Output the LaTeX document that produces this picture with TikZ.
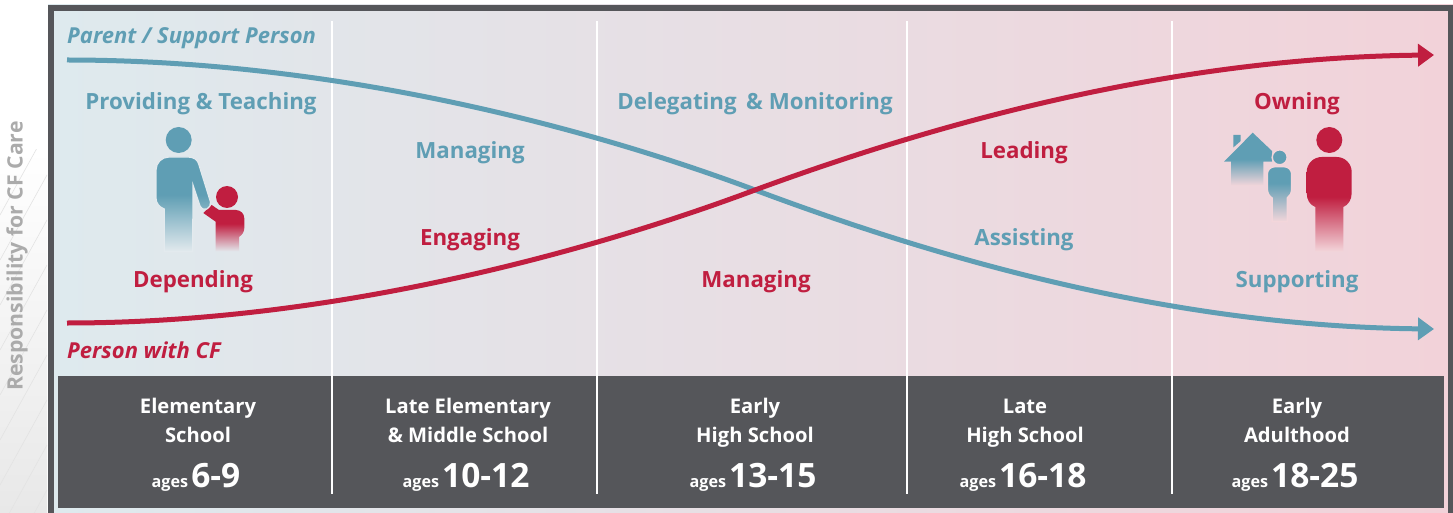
\documentclass[tikz,border=0pt]{standalone}
\usepackage{fontspec}
\setmainfont{Open Sans}
\usetikzlibrary{arrows.meta}
\definecolor{cfteal}{HTML}{5F9EB4}
\definecolor{cfred}{HTML}{C01E40}
\definecolor{cfdark}{HTML}{55565A}
\definecolor{bgleft}{HTML}{E3EAEE}
\definecolor{bgright}{HTML}{F3D6DB}
\definecolor{panelleft}{HTML}{DEEAEE}
\definecolor{panelmid}{HTML}{E9E3E5}
\definecolor{panelright}{HTML}{F2D2D9}
% figures run solid, then fade into the panel colour
\pgfdeclareverticalshading{parentfade}{100bp}{color(0bp)=(bgleft); color(25bp)=(bgleft); color(55bp)=(cfteal); color(100bp)=(cfteal)}
\pgfdeclareverticalshading{childfade}{100bp}{color(0bp)=(bgleft); color(25bp)=(bgleft); color(55bp)=(cfred); color(100bp)=(cfred)}
\pgfdeclareverticalshading{adultfade}{100bp}{color(0bp)=(bgright); color(25bp)=(bgright); color(54bp)=(cfred); color(100bp)=(cfred)}
\pgfdeclareverticalshading{smallfade}{100bp}{color(0bp)=(bgright); color(25bp)=(bgright); color(60bp)=(cfteal); color(100bp)=(cfteal)}
\pgfdeclareverticalshading{housefade}{100bp}{color(0bp)=(bgright); color(25bp)=(bgright); color(50bp)=(cfteal); color(100bp)=(cfteal)}
\begin{document}
\begin{tikzpicture}[x=1pt,y=-1pt,
  role/.style = {font=\fontsize{22.3}{24}\selectfont\bfseries, anchor=base, inner sep=0pt},
  who/.style = {font=\fontsize{22}{24}\selectfont\bfseries\itshape, anchor=base west, inner sep=0pt},
  stagetxt/.style = {font=\fontsize{20.2}{22}\selectfont\bfseries, text=white, anchor=base, inner sep=0pt},
  curve/.style = {line width=5pt, -{Triangle[length=16pt,width=22pt]}}
]
    \useasboundingbox (0,0) rectangle (1453,513);
    % left margin with axis label
    \shade[top color=white, bottom color=black!9] (0,150) rectangle (47,513);
    \begin{scope}
        \clip (0,150) rectangle (47,513);
        \foreach \hy in {215,260,...,620}
        \draw[black!11, line width=0.6pt] (0,\hy) -- ++(47,-85);
    \end{scope}
    \node[rotate=90, text=black!33, inner sep=0pt, font=\fontsize{21.2}{24}\selectfont\bfseries] (axislabel) at (17,256) {Responsibility for CF Care};
    % panel
    \shade[left color=panelleft, middle color=panelmid, right color=panelright] (48,5) rectangle (1453,513);
    \draw[cfdark, line width=5.5pt] (50.75,513) -- (50.75,8) -- (1450.5,8) -- (1450.5,513);
    \fill[cfdark] (58,376) rectangle (1444,508);
    \foreach \sx in {332,597,907,1172}
    \draw[white, line width=2pt] (\sx,21) -- (\sx,494);
    % curves
    \coordinate (parentstart) at (67,60);
    \coordinate (childstart) at (67,323);
    \coordinate (swap) at (755,190);
    \coordinate (parentend) at (1434,329);
    \coordinate (childend) at (1434,55);
    \draw[curve, cfteal] (parentstart) .. controls (340,60) and (595,130) .. (swap) .. controls (905,246) and (1150,326) .. (parentend);
    \draw[curve, cfred] (childstart) .. controls (340,323) and (600,248) .. (swap) .. controls (905,135) and (1150,58) .. (childend);
    \node[who, text=cfteal] (parentlabel) at (67,44) {Parent / Support Person};
    \node[who, text=cfred] (childlabel) at (67,358) {Person with CF};
    % upper and lower roles
    \node[role, text=cfteal] (providing) at (201,110) {Providing \& Teaching};
    \node[role, text=cfred] (depending) at (193,287) {Depending};
    \node[role, text=cfteal] (managingA) at (470,159) {Managing};
    \node[role, text=cfred] (engaging) at (470,245) {Engaging};
    \node[role, text=cfteal] (delegating) at (755,110) {Delegating \,\& Monitoring};
    \node[role, text=cfred] (managingB) at (756,287) {Managing};
    \node[role, text=cfred] (leading) at (1024,159) {Leading};
    \node[role, text=cfteal] (assisting) at (1024,245) {Assisting};
    \node[role, text=cfred] (owning) at (1297,110) {Owning};
    \node[role, text=cfteal] (supporting) at (1297,287) {Supporting};
    % stages
    \foreach \cx/\linea/\lineb/\agex/\nm in {198/Elementary/School/6-9/elem, 468/Late Elementary/\& Middle School/10-12/late, 755/Early/High School/13-15/early, 1025/Late/High School/16-18/high, 1297/Early/Adulthood/18-25/adult}
    {
        \node[stagetxt] (\nm a) at (\cx,413) {\linea};
        \node[stagetxt] (\nm b) at (\cx,442) {\lineb};
        \node[anchor=base, inner sep=0pt, text=white] (\nm c) at (\cx-2,487) {\fontsize{16.2}{17}\selectfont\bfseries ages\hspace{3pt}\fontsize{33.5}{34}\selectfont \agex};
    }
    % parent and child
    \fill[cfred] (227,197) circle (11);
    \shade[shading=childfade] (203.3,213) -- (211.7,205) -- (219,210) -- (236,210) arc (-90:0:8.3) -- (244.3,228) .. controls (244.3,232) and (242,235) .. (239,237) -- (239,251.7) -- (215.7,251.7) -- (215.7,221.7) -- cycle;
    \fill[cfteal] (178.7,140) circle (13);
    \path[shading=parentfade, draw=bgleft, line width=1.2pt] (156,170) arc (180:270:13) -- (188,157) .. controls (194,157) and (198,160) .. (199,165) -- (210.5,202) .. controls (211.5,208) and (204,213) .. (200,206) -- (193,185) -- (192.7,251.7) -- (164.3,251.7) -- (164.3,209) .. controls (159,207) and (156,203) .. (156,198) -- cycle;
    % adult at home
    \fill[cfred] (1329.3,140) circle (13);
    \shade[shading=adultfade] (1306.7,172) arc (180:270:15) -- (1336.7,157) arc (270:360:15) -- (1351.7,193) .. controls (1351.7,200) and (1348,205) .. (1343.3,207) -- (1343.3,251.7) -- (1315.3,251.7) -- (1315.3,207) .. controls (1310,205) and (1306.7,200) .. (1306.7,193) -- cycle;
    \shade[shading=housefade] (1252.7,132.7) -- (1272,151) -- (1272,161.7) -- (1263.3,161.7) -- (1263.3,185.7) -- (1231,185.7) -- (1231,161.7) -- (1224,161.7) -- cycle;
    \fill[cfteal] (1233.3,135) -- (1240.7,135) -- (1240.7,141) -- (1233.3,147.5) -- cycle;
    \filldraw[cfteal, draw=bgright, line width=1.5pt] (1279.7,157.3) circle (7.5);
    \path[shading=smallfade, draw=bgright, line width=1.5pt] (1267.3,174) arc (180:270:7.3) -- (1284.4,166.7) arc (270:360:7.3) -- (1291.7,189) .. controls (1291.7,193) and (1290,196) .. (1287.3,198) -- (1287.3,221.7) -- (1272,221.7) -- (1272,198) .. controls (1269,196) and (1267.3,193) .. (1267.3,189) -- cycle;
\end{tikzpicture}
\end{document}
